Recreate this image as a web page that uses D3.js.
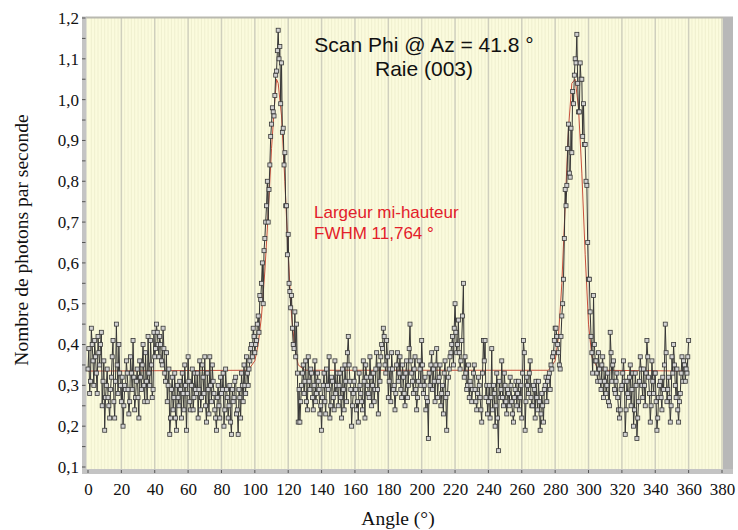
<!DOCTYPE html>
<html>
<head>
<meta charset="utf-8">
<script src="https://cdn.jsdelivr.net/npm/d3@7"></script>
<style>
  html, body { margin: 0; padding: 0; background: #ffffff; }
  svg { display: block; }
</style>
</head>
<body>
<svg id="chart" width="738" height="530"></svg>
<script>
// Phi scan readings at whole degrees, 0 to 360
const countsWhole = [
  // 0-20
  0.34, 0.28, 0.44, 0.36, 0.41, 0.33, 0.42, 0.35, 0.43, 0.31, 0.19, 0.30, 0.27, 0.22, 0.32, 0.41, 0.22, 0.45, 0.28, 0.33, 0.26,
  // 21-40
  0.20, 0.30, 0.36, 0.29, 0.26, 0.33, 0.41, 0.24, 0.31, 0.27, 0.36, 0.29, 0.40, 0.26, 0.31, 0.42, 0.30, 0.35, 0.29, 0.37,
  // 41-55
  0.45, 0.40, 0.42, 0.36, 0.44, 0.33, 0.38, 0.30, 0.18, 0.29, 0.24, 0.33, 0.19, 0.27, 0.31,
  // 56-80
  0.22, 0.28, 0.35, 0.19, 0.37, 0.26, 0.30, 0.24, 0.33, 0.28, 0.22, 0.36, 0.27, 0.32, 0.37, 0.21, 0.29, 0.37, 0.26, 0.31, 0.24, 0.19, 0.30, 0.22, 0.28,
  // 81-95
  0.33, 0.24, 0.29, 0.22, 0.30, 0.18, 0.26, 0.31, 0.23, 0.18, 0.27, 0.33, 0.26, 0.30, 0.37,
  // 96-127 first reflection
  0.30, 0.36, 0.40, 0.44, 0.38, 0.41, 0.47, 0.52, 0.55, 0.50, 0.66, 0.74, 0.70, 0.84, 0.94, 0.97,
  1.01, 1.07, 1.17, 1.13, 1.09, 0.93, 0.87, 0.74, 0.67, 0.53, 0.52, 0.40, 0.48, 0.45, 0.21, 0.21,
  // 128-160
  0.30, 0.35, 0.31, 0.26, 0.37, 0.29, 0.33, 0.24, 0.36, 0.28, 0.31, 0.23, 0.19, 0.30, 0.26, 0.34, 0.29, 0.22, 0.32, 0.27, 0.36, 0.30, 0.25, 0.33, 0.22, 0.29, 0.35, 0.26, 0.42, 0.31, 0.20, 0.28, 0.34,
  // 161-180
  0.24, 0.21, 0.30, 0.26, 0.36, 0.22, 0.32, 0.28, 0.37, 0.25, 0.33, 0.29, 0.38, 0.23, 0.31, 0.40, 0.44, 0.35, 0.41, 0.27,
  // 181-200
  0.34, 0.38, 0.29, 0.24, 0.35, 0.31, 0.37, 0.27, 0.32, 0.25, 0.36, 0.30, 0.45, 0.33, 0.28, 0.37, 0.24, 0.31, 0.34, 0.41,
  // 201-220
  0.28, 0.32, 0.27, 0.17, 0.30, 0.38, 0.34, 0.26, 0.39, 0.31, 0.35, 0.28, 0.23, 0.36, 0.19, 0.32, 0.37, 0.40, 0.35, 0.50,
  // 221-240
  0.38, 0.46, 0.34, 0.41, 0.55, 0.37, 0.29, 0.35, 0.31, 0.26, 0.33, 0.29, 0.24, 0.32, 0.27, 0.21, 0.41, 0.41, 0.30, 0.26,
  // 241-260
  0.22, 0.39, 0.30, 0.20, 0.33, 0.14, 0.27, 0.36, 0.25, 0.30, 0.23, 0.28, 0.32, 0.26, 0.21, 0.29, 0.25, 0.31, 0.27, 0.22,
  // 261-277
  0.41, 0.19, 0.32, 0.28, 0.36, 0.25, 0.30, 0.22, 0.27, 0.31, 0.19, 0.28, 0.21, 0.30, 0.26, 0.32, 0.29,
  // 278-305 second reflection
  0.34, 0.38, 0.44, 0.42, 0.38, 0.34, 0.47, 0.56, 0.78, 0.79, 0.94, 0.81, 0.87, 0.99, 1.10, 1.16,
  0.97, 1.09, 1.05, 0.99, 0.89, 0.79, 0.56, 0.48, 0.38, 0.52, 0.36, 0.33,
  // 306-360
  0.38, 0.31, 0.35, 0.27, 0.34, 0.30, 0.26, 0.43, 0.31, 0.36, 0.28, 0.33, 0.24, 0.24, 0.30, 0.36, 0.18, 0.31, 0.27, 0.35,
  0.29, 0.20, 0.33, 0.17, 0.26, 0.37, 0.30, 0.34, 0.25, 0.41, 0.32, 0.21, 0.36, 0.28, 0.33, 0.19, 0.27, 0.31, 0.24, 0.29,
  0.45, 0.26, 0.32, 0.21, 0.37, 0.40, 0.30, 0.34, 0.21, 0.28, 0.37, 0.36, 0.31, 0.33, 0.41
];

// Readings at the half degrees, 0.5 to 359.5
const countsHalf = [
  // 0.5-9.5
  0.39, 0.31, 0.40, 0.30, 0.37, 0.28, 0.38, 0.40, 0.25, 0.36,
  // 10.5-19.5
  0.27, 0.34, 0.25, 0.29, 0.37, 0.26, 0.31, 0.35, 0.40, 0.30,
  // 20.5-29.5
  0.32, 0.25, 0.29, 0.33, 0.23, 0.37, 0.29, 0.32, 0.27, 0.34,
  // 30.5-39.5
  0.22, 0.32, 0.35, 0.30, 0.38, 0.26, 0.33, 0.41, 0.27, 0.43,
  // 40.5-49.5
  0.39, 0.43, 0.37, 0.40, 0.35, 0.39, 0.31, 0.26, 0.34, 0.22,
  // 50.5-59.5
  0.32, 0.27, 0.22, 0.30, 0.25, 0.29, 0.33, 0.24, 0.30, 0.28,
  // 60.5-69.5
  0.31, 0.24, 0.34, 0.27, 0.29, 0.33, 0.29, 0.24, 0.35, 0.28,
  // 70.5-79.5
  0.25, 0.33, 0.23, 0.30, 0.35, 0.28, 0.22, 0.27, 0.25, 0.32,
  // 80.5-89.5
  0.29, 0.20, 0.34, 0.27, 0.25, 0.21, 0.29, 0.27, 0.32, 0.24,
  // 90.5-95.5
  0.29, 0.22, 0.30, 0.35, 0.28, 0.33,
  // 96.5-127.5 first reflection
  0.34, 0.39, 0.37, 0.42, 0.40, 0.45, 0.43, 0.51, 0.60, 0.63,
  0.70, 0.80, 0.78, 0.91, 0.98, 0.96, 1.06, 1.12, 1.10, 0.99,
  0.92, 0.84, 0.74, 0.62, 0.55, 0.49, 0.44, 0.39, 0.37, 0.33, 0.29, 0.26,
  // 128.5-139.5
  0.33, 0.28, 0.36, 0.24, 0.31, 0.34, 0.27, 0.30, 0.26, 0.33, 0.29, 0.25,
  // 140.5-149.5
  0.27, 0.33, 0.23, 0.30, 0.37, 0.25, 0.31, 0.24, 0.28, 0.33,
  // 150.5-159.5
  0.30, 0.27, 0.34, 0.24, 0.31, 0.38, 0.35, 0.29, 0.25, 0.31,
  // 160.5-169.5
  0.29, 0.26, 0.33, 0.28, 0.24, 0.31, 0.35, 0.30, 0.27, 0.32,
  // 170.5-179.5
  0.30, 0.26, 0.34, 0.29, 0.35, 0.37, 0.39, 0.42, 0.33, 0.37,
  // 180.5-189.5
  0.31, 0.26, 0.34, 0.30, 0.28, 0.38, 0.33, 0.29, 0.35, 0.28,
  // 190.5-199.5
  0.33, 0.27, 0.39, 0.36, 0.31, 0.34, 0.29, 0.27, 0.36, 0.30,
  // 200.5-209.5
  0.35, 0.30, 0.24, 0.26, 0.33, 0.35, 0.29, 0.31, 0.35, 0.27,
  // 210.5-219.5
  0.32, 0.25, 0.30, 0.33, 0.27, 0.28, 0.34, 0.38, 0.42, 0.44,
  // 220.5-229.5
  0.43, 0.40, 0.38, 0.36, 0.47, 0.32, 0.33, 0.30, 0.27, 0.30,
  // 230.5-239.5
  0.29, 0.35, 0.26, 0.28, 0.30, 0.24, 0.33, 0.36, 0.27, 0.23,
  // 240.5-249.5
  0.30, 0.27, 0.24, 0.28, 0.25, 0.22, 0.31, 0.29, 0.27, 0.33,
  // 250.5-259.5
  0.26, 0.29, 0.25, 0.30, 0.23, 0.27, 0.31, 0.28, 0.24, 0.30,
  // 260.5-269.5
  0.33, 0.38, 0.26, 0.30, 0.33, 0.27, 0.25, 0.29, 0.31, 0.24,
  // 270.5-277.5
  0.26, 0.23, 0.25, 0.29, 0.32, 0.31, 0.33, 0.35,
  // 278.5-305.5 second reflection
  0.37, 0.41, 0.44, 0.40, 0.35, 0.42, 0.50, 0.66, 0.74, 0.88,
  0.82, 0.93, 1.02, 1.06, 1.09, 1.04, 0.97, 1.05, 0.91, 0.89,
  0.80, 0.65, 0.56, 0.42, 0.33, 0.40, 0.36, 0.31,
  // 306.5-315.5
  0.34, 0.29, 0.37, 0.31, 0.28, 0.33, 0.25, 0.38, 0.35, 0.29,
  // 316.5-325.5
  0.31, 0.27, 0.22, 0.29, 0.33, 0.31, 0.24, 0.28, 0.32, 0.25,
  // 326.5-335.5
  0.33, 0.24, 0.30, 0.22, 0.31, 0.34, 0.27, 0.30, 0.33, 0.37,
  // 336.5-345.5
  0.28, 0.25, 0.31, 0.33, 0.26, 0.22, 0.30, 0.27, 0.32, 0.35,
  // 346.5-355.5
  0.38, 0.29, 0.27, 0.25, 0.33, 0.35, 0.27, 0.24, 0.26, 0.33,
  // 356.5-359.5
  0.31, 0.35, 0.34, 0.37
];

// Fitted profile (baseline plus the two reflections)
const fitAngles = [0, 96, 100, 102, 104, 106, 108, 110, 112, 113, 114, 116, 118, 120, 122, 124, 126, 130,
                   276, 280, 282, 284, 286, 288, 290, 292, 294, 296, 298, 300, 302, 306, 360];
const fitValues = [0.335, 0.337, 0.36, 0.40, 0.47, 0.58, 0.72, 0.88, 1.00, 1.05, 1.04, 0.96, 0.80, 0.62, 0.47, 0.39, 0.35, 0.337,
                   0.337, 0.36, 0.42, 0.55, 0.74, 0.93, 1.04, 1.05, 0.98, 0.82, 0.62, 0.45, 0.37, 0.337, 0.335];

const xTicks = [0, 20, 40, 60, 80, 100, 120, 140, 160, 180, 200, 220, 240, 260, 280, 300, 320, 340, 360, 380];
const yTicks = [0.1, 0.2, 0.3, 0.4, 0.5, 0.6, 0.7, 0.8, 0.9, 1.0, 1.1, 1.2];
const yMinorTicks = [0.15, 0.25, 0.35, 0.45, 0.55, 0.65, 0.75, 0.85, 0.95, 1.05, 1.15];

const titleLines = ["Scan Phi @ Az = 41.8 °", "Raie (003)"];
const noteLines = ["Largeur mi-hauteur", "FWHM 11,764 °"];

const svg = d3.select("#chart");

const x = d3.scaleLinear().domain([0, 380]).range([88, 722]);
const y = d3.scaleLinear().domain([0.1, 1.2]).range([467, 18]);

const plot = { left: 86, right: 723, top: 18, bottom: 469 };
const serif = "'Liberation Serif', 'Times New Roman', serif";
const sans = "'Liberation Sans', Arial, sans-serif";

// plot background
svg.append("rect")
  .attr("x", plot.left).attr("y", plot.top)
  .attr("width", plot.right - plot.left).attr("height", plot.bottom - plot.top)
  .attr("fill", "#fbfbdd");

// faint minor vertical lines
const minorX = d3.range(0, 381, 2).filter(d => d % 20 !== 0);
svg.append("g").selectAll("line").data(minorX).join("line")
  .attr("x1", d => x(d)).attr("x2", d => x(d))
  .attr("y1", plot.top).attr("y2", plot.bottom)
  .attr("stroke", "#efefcf").attr("stroke-width", 1);

// major vertical grid lines
svg.append("g").selectAll("line").data(xTicks.filter(d => d > 0)).join("line")
  .attr("x1", d => x(d)).attr("x2", d => x(d))
  .attr("y1", plot.top).attr("y2", plot.bottom)
  .attr("stroke", "#cfcfbd").attr("stroke-width", 1.5);

// frame: top edge, right wall, left and bottom axis strips
svg.append("rect").attr("x", plot.left).attr("y", plot.top - 1.5)
  .attr("width", plot.right - plot.left).attr("height", 2).attr("fill", "#b9b9b0");
svg.append("rect").attr("x", plot.right).attr("y", plot.top - 1.5)
  .attr("width", 10).attr("height", plot.bottom + 5 - plot.top + 1.5).attr("fill", "#b8b8b8");
svg.append("rect").attr("x", 82).attr("y", plot.top - 1.5)
  .attr("width", 4.5).attr("height", plot.bottom + 5 - plot.top + 1.5).attr("fill", "#c4c4c4");
svg.append("rect").attr("x", 82).attr("y", plot.bottom)
  .attr("width", plot.right + 10 - 82).attr("height", 5).attr("fill", "#c4c4c4");

// fitted curve
svg.append("path")
  .datum(fitAngles.map((a, i) => [a, fitValues[i]]))
  .attr("fill", "none").attr("stroke", "#c8503c").attr("stroke-width", 1)
  .attr("d", d3.line().x(d => x(d[0])).y(d => y(d[1])));

// measured points, whole and half degrees merged in scan order
const pts = countsWhole.map((v, i) => [i, v])
  .concat(countsHalf.map((v, i) => [i + 0.5, v]))
  .sort((a, b) => a[0] - b[0]);

svg.append("path")
  .datum(pts)
  .attr("fill", "none").attr("stroke", "#363636").attr("stroke-width", 1)
  .attr("d", d3.line().x(d => x(d[0])).y(d => y(d[1])));

svg.append("g").selectAll("rect").data(pts).join("rect")
  .attr("x", d => x(d[0]) - 2).attr("y", d => y(d[1]) - 2)
  .attr("width", 4).attr("height", 4)
  .attr("fill", "#d2d2d2").attr("stroke", "#383838").attr("stroke-width", 0.8);

// x axis
const xAxis = svg.append("g").attr("transform", `translate(0,${plot.bottom})`)
  .call(d3.axisBottom(x).tickValues(xTicks).tickSize(0).tickPadding(14).tickFormat(d3.format("d")));
xAxis.select(".domain").remove();
xAxis.selectAll("text").attr("font-family", serif).attr("font-size", 17).attr("fill", "#111");
svg.append("g").selectAll("line").data(xTicks).join("line")
  .attr("x1", d => x(d)).attr("x2", d => x(d))
  .attr("y1", plot.bottom + 1).attr("y2", plot.bottom + 4)
  .attr("stroke", "#555").attr("stroke-width", 1);

// y axis
const yAxis = svg.append("g").attr("transform", "translate(82,0)")
  .call(d3.axisLeft(y).tickValues(yTicks).tickSize(0).tickPadding(3)
    .tickFormat(d => d3.format(".1f")(d).replace(".", ",")));
yAxis.select(".domain").remove();
yAxis.selectAll("text").attr("font-family", serif).attr("font-size", 17).attr("fill", "#111");
svg.append("g").selectAll("line").data(yTicks.concat(yMinorTicks)).join("line")
  .attr("x1", 82).attr("x2", 85.5)
  .attr("y1", d => y(d)).attr("y2", d => y(d))
  .attr("stroke", "#555").attr("stroke-width", 1);

// axis titles
svg.append("text")
  .attr("x", 398).attr("y", 525).attr("text-anchor", "middle")
  .attr("font-family", serif).attr("font-size", 19.5)
  .attr("fill", "#111").text("Angle (°)");
svg.append("text")
  .attr("transform", "translate(28,240) rotate(-90)").attr("text-anchor", "middle")
  .attr("font-family", serif).attr("font-size", 19.5)
  .attr("fill", "#111").text("Nombre de photons par seconde");

// title
svg.append("g").selectAll("text").data(titleLines).join("text")
  .attr("x", 424).attr("y", (d, i) => 52 + i * 24)
  .attr("text-anchor", "middle")
  .attr("font-family", sans).attr("font-size", 21)
  .attr("fill", "#111").text(d => d);

// FWHM note
svg.append("g").selectAll("text").data(noteLines).join("text")
  .attr("x", 314).attr("y", (d, i) => 218 + i * 21)
  .attr("font-family", sans).attr("font-size", 17)
  .attr("fill", "#e3202a").text(d => d);
</script>
</body>
</html>
